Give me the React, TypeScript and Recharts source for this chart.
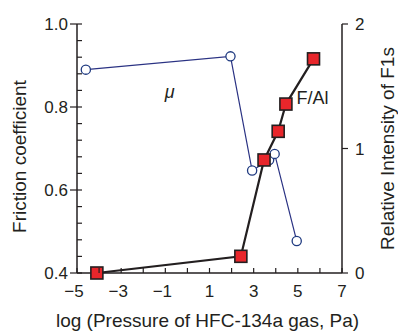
import React from 'react';
import { ComposedChart, Line, XAxis, YAxis, ReferenceDot } from 'recharts';

// friction coefficient (left axis)
const muLogP = [-4.6, 1.95, 2.93, 3.7, 3.95, 4.95];
const muValues = [0.89, 0.922, 0.647, 0.672, 0.687, 0.477];

// relative intensity of F1s (right axis)
const faLogP = [-4.1, 2.42, 3.47, 4.11, 4.46, 5.71];
const faValues = [0, 0.134, 0.908, 1.138, 1.357, 1.72];

const xTicks = [-5, -4, -3, -2, -1, 0, 1, 2, 3, 4, 5, 6, 7];
const xLabels = [-5, -3, -1, 1, 3, 5, 7];
const leftTicks = [0.4, 0.44, 0.48, 0.52, 0.56, 0.6, 0.64, 0.68, 0.72, 0.76, 0.8, 0.84, 0.88, 0.92, 0.96, 1.0];
const leftLabels = [0.4, 0.6, 0.8, 1.0];
const rightTicks = [0, 1, 2];

const muData = muLogP.map((x, i) => ({ x, mu: muValues[i] }));
const faData = faLogP.map((x, i) => ({ x, fa: faValues[i] }));

const INK = '#231f20';
const FONT = '"Liberation Sans", Arial, Helvetica, sans-serif';

const BottomTick = (props: any) => {
  const { x, y, payload } = props;
  const v = payload.value;
  const show = xLabels.includes(v);
  return (
    <g>
      <line x1={x} x2={x} y1={y} y2={y - 5} stroke={INK} strokeWidth={1.2} />
      {show && (
        <text x={x} y={y + 24} dx={v < 0 ? -3 : 0} textAnchor="middle" fontSize={17} fontFamily={FONT} fill={INK}>
          {v < 0 ? '\u2212' + Math.abs(v) : String(v)}
        </text>
      )}
    </g>
  );
};

const LeftTick = (props: any) => {
  const { x, y, payload } = props;
  const v = payload.value;
  const major = leftLabels.some((l) => Math.abs(l - v) < 1e-6);
  return (
    <g>
      <line x1={major ? x - 7 : x} x2={x + 5} y1={y} y2={y} stroke={INK} strokeWidth={1.2} />
      {major && (
        <text x={x - 9} y={y + 6} textAnchor="end" fontSize={17} fontFamily={FONT} fill={INK}>
          {v.toFixed(1)}
        </text>
      )}
    </g>
  );
};

const RightTick = (props: any) => {
  const { x, y, payload } = props;
  return (
    <g>
      <line x1={x} x2={x + 6} y1={y} y2={y} stroke={INK} strokeWidth={1.2} />
      <text x={x + 13} y={y + 6} textAnchor="start" fontSize={17} fontFamily={FONT} fill={INK}>
        {String(payload.value)}
      </text>
    </g>
  );
};

const SquareDot = (props: any) => {
  const { cx, cy, index } = props;
  return (
    <rect key={'sq' + index} x={cx - 6} y={cy - 6} width={12} height={12} fill="#e8262b" stroke={INK} strokeWidth={1.6} />
  );
};

const CircleDot = (props: any) => {
  const { cx, cy, index } = props;
  return <circle key={'c' + index} cx={cx} cy={cy} r={4.6} fill="#fff" stroke="#1f3a80" strokeWidth={1.3} />;
};

const App = () => {
  return (
    <div style={{ position: 'absolute', left: 0, top: 0, background: '#fff' }}>
      <ComposedChart width={398} height={332} margin={{ top: 24, right: 0, bottom: 0, left: 0 }}>
        <XAxis
          dataKey="x"
          type="number"
          domain={[-5, 7]}
          ticks={xTicks}
          interval={0}
          height={59}
          tickSize={0}
          tickMargin={0}
          tickLine={false}
          tick={<BottomTick />}
          axisLine={{ stroke: INK, strokeWidth: 1.5 }}
          label={{
            content: (p: any) => {
              const vb = p.viewBox;
              return (
                <text x={vb.x + vb.width / 2 - 2} y={327} textAnchor="middle" fontSize={19} fontFamily={FONT} fill={INK}>
                  log (Pressure of HFC-134a gas, Pa)
                </text>
              );
            },
          }}
        />
        <XAxis
          xAxisId="top"
          orientation="top"
          type="number"
          domain={[-5, 7]}
          height={0}
          tick={false}
          tickLine={false}
          axisLine={{ stroke: INK, strokeWidth: 1.5 }}
        />
        <YAxis
          yAxisId="left"
          type="number"
          domain={[0.4, 1.0]}
          ticks={leftTicks}
          interval={0}
          width={77}
          tickSize={0}
          tickMargin={0}
          tickLine={false}
          tick={<LeftTick />}
          axisLine={{ stroke: INK, strokeWidth: 1.5 }}
          label={{
            content: (p: any) => {
              const vb = p.viewBox;
              return (
                <text
                  transform={`translate(26, ${vb.y + vb.height / 2 + 8}) rotate(-90)`}
                  textAnchor="middle"
                  fontSize={19}
                  fontFamily={FONT}
                  fill={INK}
                >
                  Friction coefficient
                </text>
              );
            },
          }}
        />
        <YAxis
          yAxisId="right"
          orientation="right"
          type="number"
          domain={[0, 2]}
          ticks={rightTicks}
          interval={0}
          width={56}
          tickSize={0}
          tickMargin={0}
          tickLine={false}
          tick={<RightTick />}
          axisLine={{ stroke: INK, strokeWidth: 1.5 }}
          label={{
            content: (p: any) => {
              const vb = p.viewBox;
              return (
                <text
                  transform={`translate(394, ${vb.y + vb.height / 2}) rotate(-90)`}
                  textAnchor="middle"
                  fontSize={19}
                  fontFamily={FONT}
                  fill={INK}
                >
                  Relative Intensity of F1s
                </text>
              );
            },
          }}
        />
        <Line
          data={muData}
          dataKey="mu"
          yAxisId="left"
          type="linear"
          stroke="#2a3283"
          strokeWidth={1.2}
          dot={<CircleDot />}
          activeDot={false}
          isAnimationActive={false}
        />
        <Line
          data={faData}
          dataKey="fa"
          yAxisId="right"
          type="linear"
          stroke={INK}
          strokeWidth={2.2}
          dot={<SquareDot />}
          activeDot={false}
          isAnimationActive={false}
        />
        <ReferenceDot
          x={-0.8}
          y={0.836}
          yAxisId="left"
          r={0}
          fill="none"
          stroke="none"
          label={{ value: '\u03bc', position: 'center', fontSize: 18, fontStyle: 'italic', fill: INK, fontFamily: FONT }}
        />
        <ReferenceDot
          x={5.67}
          y={0.822}
          yAxisId="left"
          r={0}
          fill="none"
          stroke="none"
          label={{ value: 'F/Al', position: 'center', fontSize: 18, fill: INK, fontFamily: FONT }}
        />
      </ComposedChart>
    </div>
  );
};

export default App;
